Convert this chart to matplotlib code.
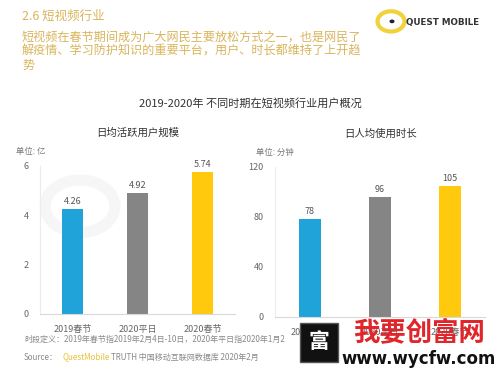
import matplotlib
matplotlib.use("Agg")
import matplotlib.pyplot as plt
from matplotlib.patches import Circle, Rectangle

plt.rcParams['font.family'] = ['Noto Sans CJK SC', 'DejaVu Sans']

categories = ["2019春节", "2020平日", "2020春节"]
dau = [4.26, 4.92, 5.74]
minutes = [78, 96, 105]
left_ticks = [0, 2, 4, 6]
right_ticks = [0, 40, 80, 120]
colors = ["#1fa3d9", "#858585", "#ffc90e"]
gold = "#d9b45a"
grey_txt = "#8a8a8a"

fig = plt.figure(figsize=(5, 3.75), dpi=100)
fig.patch.set_facecolor("white")

# faint background logo ring (behind the axes)
fig.patches.append(Circle((0.16, 0.45), 0.07, transform=fig.transFigure,
                          fill=False, lw=8, ec="#f6f6f6", zorder=-2))

def make_ax(rect, vals, ticks, ylim, title, fmt):
    ax = fig.add_axes(rect)
    ax.patch.set_alpha(0)
    x = range(len(vals))
    ax.bar(x, vals, width=0.31, color=colors, zorder=2)
    for xi, v in zip(x, vals):
        ax.text(xi, v + ylim * 0.02, fmt.format(v),
                ha="center", va="bottom", fontsize=6.5, color="#555555")
    ax.set_xlim(-0.5, 2.5)
    ax.set_ylim(0, ylim)
    ax.set_yticks(ticks)
    ax.set_xticks(list(x))
    ax.set_xticklabels(categories)
    ax.tick_params(length=0, labelsize=6.5, colors="#666666", pad=8)
    for s in ["top", "right"]:
        ax.spines[s].set_visible(False)
    ax.spines["left"].set_color("#ececec")
    ax.spines["bottom"].set_color("#d9d9d9")
    ax.text(0.5, 1.19, title, transform=ax.transAxes, fontsize=7.5, color="#333333",
            ha="center", va="bottom")
    return ax

ax1 = make_ax([0.08, 0.1627, 0.39, 0.3947], dau, left_ticks, 6, "日均活跃用户规模", "{:.2f}")
ax1.text(0.03, 1.07, "单位: 亿", transform=ax1.transAxes, fontsize=6, color="#777777",
         ha="right", va="bottom")
ax2 = make_ax([0.55, 0.1547, 0.42, 0.40], minutes, right_ticks, 120, "日人均使用时长", "{:d}")
ax2.text(-0.09, 1.07, "单位: 分钟", transform=ax2.transAxes, fontsize=6, color="#777777",
         ha="left", va="bottom")

fig.text(0.5, 0.725, "2019-2020年 不同时期在短视频行业用户概况", fontsize=8, color="#333333",
         ha="center", va="center")

# header
fig.text(0.044, 0.957, "2.6 短视频行业", fontsize=9, color=gold, va="center")
body = ["短视频在春节期间成为广大网民主要放松方式之一，也是网民了",
        "解疫情、学习防护知识的重要平台，用户、时长都维持了上开趋",
        "势"]
for i, line in enumerate(body):
    fig.text(0.044, 0.90 - i * 0.037, line, fontsize=8.7, color=gold, va="center")

# logo
fig.patches.append(Circle((0.782, 0.943), 0.027, transform=fig.transFigure,
                          fill=False, lw=3, ec="#f2d23a", zorder=3))
fig.patches.append(Circle((0.784, 0.943), 0.005, transform=fig.transFigure,
                          fc="#222222", ec="none", zorder=4))
fig.text(0.813, 0.941, "QUEST MOBILE", fontsize=6.3, weight="bold", color="#333333",
         va="center", family="DejaVu Sans")

# footer
fig.text(0.048, 0.094, "时段定义：2019年春节指2019年2月4日-10日，2020年平日指2020年1月2",
         fontsize=5.8, color=grey_txt, va="center")
fig.text(0.048, 0.048, "Source：", fontsize=5.8, color=grey_txt, va="center")
fig.text(0.125, 0.048, "QuestMobile", fontsize=5.8, color="#e8c23a", va="center")
fig.text(0.222, 0.048, "TRUTH 中国移动互联网数据库 2020年2月", fontsize=5.8,
         color=grey_txt, va="center")

# overlay watermark
fig.patches.append(Rectangle((0.60, 0.035), 0.076, 0.105, transform=fig.transFigure,
                             fc="#111111", ec="#555555", lw=1, zorder=10))
fig.text(0.638, 0.088, "富", fontsize=15, color="white", ha="center", va="center",
         weight="bold", zorder=11)
fig.text(0.838, 0.113, "我要创富网", fontsize=19, color="#e0262b", ha="center",
         va="center", weight="bold", zorder=11)
fig.text(0.838, 0.042, "www.wycfw.com", fontsize=12, color="#111111", ha="center",
         va="center", weight="bold", family="DejaVu Sans", zorder=11)

fig.savefig("out.png", dpi=100, facecolor="white")
